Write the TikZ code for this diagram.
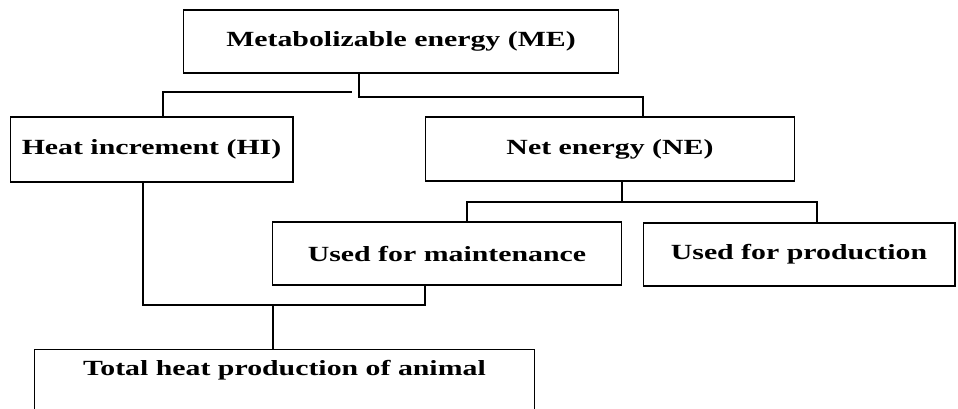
\documentclass[tikz,border=0pt]{standalone}
\usepackage{fontspec}
\setmainfont{Liberation Serif}[FakeStretch=1.38]
\usepackage{tikz}

\begin{document}
\begin{tikzpicture}[x=0.02cm,y=-0.02cm,
    box/.style={draw,line width=0.6pt,inner sep=0pt,font=\fontsize{12.3}{14}\selectfont\bfseries},
    link/.style={line width=0.6pt}]
\useasboundingbox (0,0) rectangle (958,409);

%draw boxes
    \node[box,minimum width=8.72cm,minimum height=1.26cm] (me) at (401,41.5) {Metabolizable energy (ME)};
    \node[box,minimum width=5.66cm,minimum height=1.3cm] (hi) at (151.5,149.5) {Heat increment (HI)};
    \node[box,minimum width=7.4cm,minimum height=1.28cm] (ne) at (610,149) {Net energy (NE)};
    \node[box,minimum width=7cm,minimum height=1.26cm] (maint) at (447,253.5) {Used for maintenance};
    \node[box,minimum width=6.24cm,minimum height=1.26cm] (prod) at (799,254.5) {Used for production};
%    bottom edge runs off the page
    \node[box,anchor=north,minimum width=10.02cm,text height=0.52cm,text depth=1.2cm] (total) at (284.5,349) {Total heat production of animal};

%draw connectors
    \coordinate (megap) at (352,92);
    \draw[link] (hi.north -| 163,0) |- (megap);
    \draw[link] (me.south -| 359,0) -- (359,97) -| (ne.north -| 643,0);
    \draw[link] (ne.south -| 622,0) -- (622,202);
    \draw[link] (maint.north -| 467,0) -- (467,202) -| (prod.north -| 817,0);
    \draw[link] (hi.south -| 143,0) -- (143,305) -| (maint.south -| 425,0);
    \draw[link] (273,305) -- (total.north -| 273,0);

\end{tikzpicture}
\end{document}
